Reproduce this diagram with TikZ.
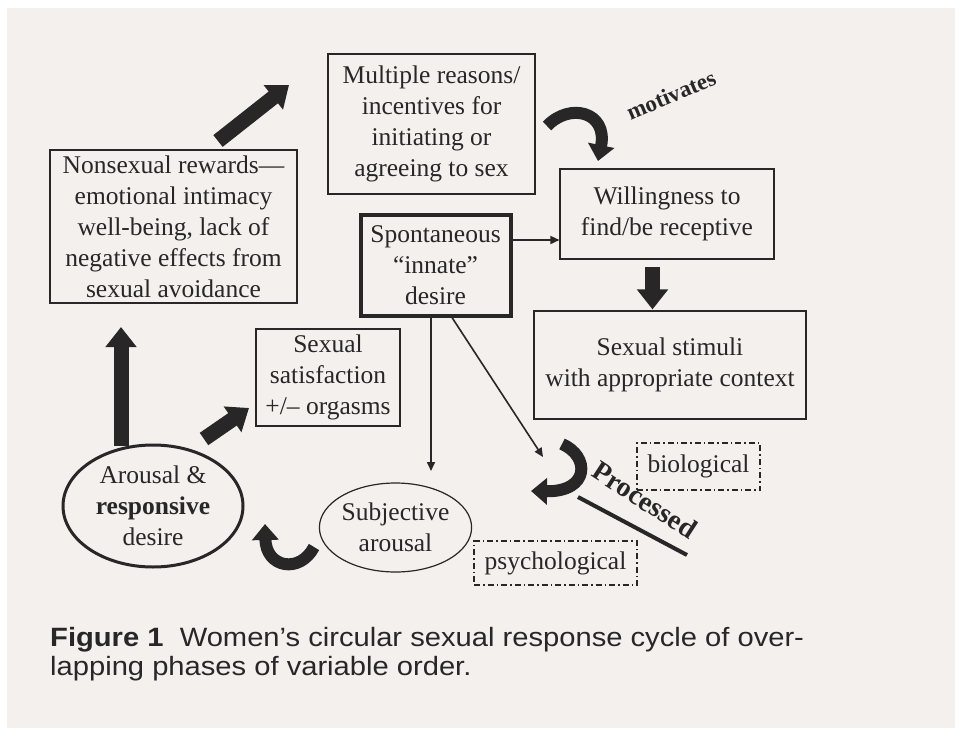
\documentclass[tikz,border=0pt]{standalone}
\usepackage{fontspec}
\setmainfont{Liberation Serif}
\newfontfamily\capfont[FakeStretch=1.1]{Liberation Sans}
\usetikzlibrary{arrows.meta,shapes.geometric,calc}
\definecolor{paper}{RGB}{243,240,238}
\definecolor{ink}{RGB}{40,38,38}
\begin{document}
\begin{tikzpicture}[x=1pt,y=-1pt,
  every node/.style={inner sep=0pt, align=center, font=\fontsize{25.5}{31}\selectfont, text=ink},
  plainbox/.style={draw=ink, line width=1.1pt, rectangle},
  thickbox/.style={draw=ink, line width=4pt, rectangle},
  dashbox/.style={draw=ink, line width=1.3pt, dash pattern=on 6pt off 3pt on 1.5pt off 3pt},
  blockarr/.style={ink, line width=15pt, -{Triangle[length=20pt,width=30pt]}},
  curvarr/.style={ink, line width=12pt, -{Triangle[length=16pt,width=26pt]}},
  thinarr/.style={ink, line width=1.6pt, -{Triangle[length=9pt,width=8pt]}}
]
\useasboundingbox (0,0) rectangle (961,731);
\fill[white] (0,0) rectangle (961,731);
\fill[paper] (7,8) rectangle (955,728);

% boxes
\node[plainbox, minimum width=207pt, minimum height=140pt] (mr) at (431.5,124)
  {Multiple reasons/\\incentives for\\initiating or\\agreeing to sex};
\node[plainbox, minimum width=247pt, minimum height=153pt] (ns) at (173.5,226.5)
  {Nonsexual rewards---\\emotional intimacy\\well-being, lack of\\negative effects from\\sexual avoidance};
\node[plainbox, minimum width=214pt, minimum height=90pt] (wi) at (667,214)
  {Willingness to\\find/be receptive};
\node[plainbox, minimum width=272pt, minimum height=108pt] (st) at (670,365)
  {Sexual stimuli\\with appropriate context};
\node[thickbox, minimum width=150pt, minimum height=101pt] (sp) at (435.5,265)
  {Spontaneous\\``innate''\\desire};
\node[plainbox, minimum width=144pt, minimum height=97pt] (sa) at (328,377.5)
  {Sexual\\satisfaction\\+/-- orgasms};
\node[ellipse, draw=ink, line width=3pt, minimum width=180pt, minimum height=122pt] (ar) at (153,506)
  {Arousal \&\\\textbf{responsive}\\desire};
\node[ellipse, draw=ink, line width=1.2pt, minimum width=149pt, minimum height=89pt] (su) at (395.5,527.5)
  {Subjective\\arousal};
\node[dashbox, minimum width=123pt, minimum height=47pt] (bi) at (698.5,466.5) {biological};
\node[dashbox, minimum width=163pt, minimum height=44pt] (ps) at (555.5,563) {psychological};

% labels
\node[font=\fontsize{23}{26}\selectfont\bfseries, rotate=23] (mo) at (671,95) {motivates};
\node[font=\fontsize{28}{30}\selectfont\bfseries, rotate=-33] (pr) at (645,500) {Processed};
\coordinate (ul1) at (578,497);
\coordinate (ul2) at (687,555);
\draw[ink, line width=4pt] (ul1) -- (ul2);

% block arrows
\coordinate (a1s) at (218,141);
\coordinate (a1e) at (289,85);
\draw[blockarr] (a1s) -- (a1e);
\draw[blockarr] ([yshift=-2pt]ar.north -| 121,0) -- (121,327);
\coordinate (a3s) at (204,439);
\coordinate (a3e) at (249,408);
\draw[blockarr] (a3s) -- (a3e);
\draw[blockarr] ([xshift=-14.5pt,yshift=-7pt]wi.south) -- ([xshift=-17.5pt,yshift=1pt]st.north);

% curved arrows
\draw[curvarr] (547,126) .. controls (570,102) and (608,112) .. (598,161);
\draw[curvarr] (562,444) .. controls (590,456) and (590,492) .. (531,491);
\draw[curvarr] (314,547) .. controls (300,574) and (266,568) .. (265,524);

% thin arrows
\draw[thinarr] ([yshift=25pt]sp.east) -- ([yshift=-26pt]wi.west);
\coordinate (d1) at (431,471);
\draw[thinarr] ([xshift=-4.5pt]sp.south) -- (d1);
\coordinate (d2) at (543,457);
\draw[thinarr] ([xshift=16.5pt]sp.south) -- (d2);

% caption
\node[font=\capfont\fontsize{26.5}{29}\selectfont, anchor=base west] (c1) at (50,646)
  {\textbf{Figure 1}\ \ Women’s circular sexual response cycle of over-};
\node[font=\capfont\fontsize{26.5}{29}\selectfont, anchor=base west] (c2) at (50,675)
  {lapping phases of variable order.};
\end{tikzpicture}
\end{document}
